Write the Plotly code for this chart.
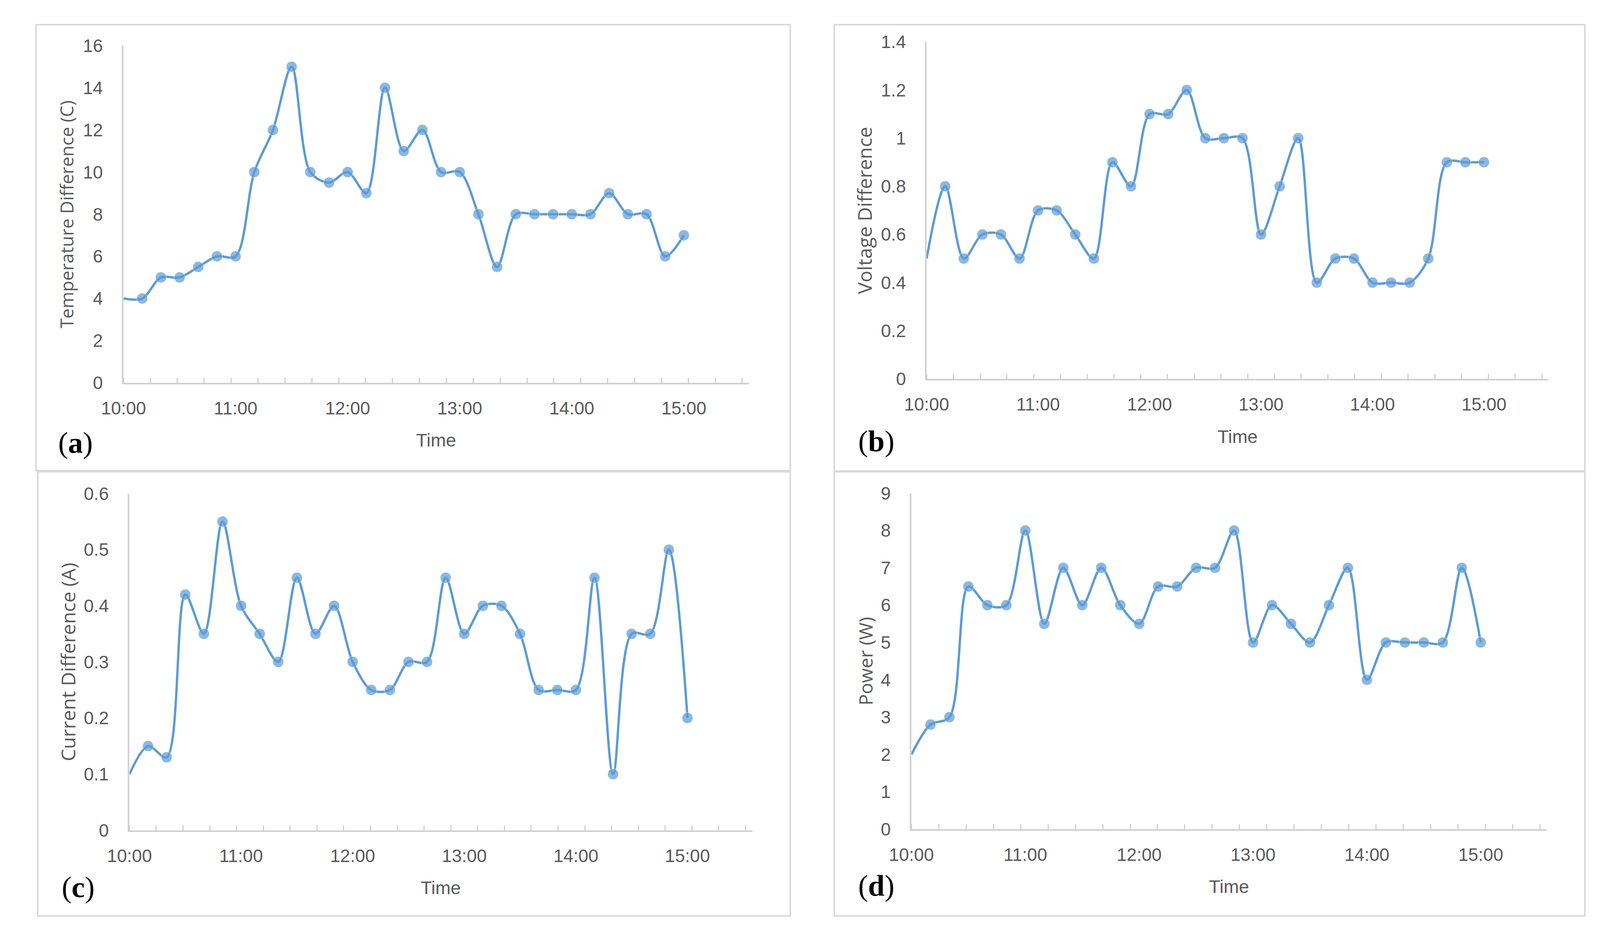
import plotly.graph_objects as go

# ---------------- data ----------------
times = ["10:00", "10:10", "10:20", "10:30", "10:40", "10:50",
         "11:00", "11:10", "11:20", "11:30", "11:40", "11:50",
         "12:00", "12:10", "12:20", "12:30", "12:40", "12:50",
         "13:00", "13:10", "13:20", "13:30", "13:40", "13:50",
         "14:00", "14:10", "14:20", "14:30", "14:40", "14:50", "15:00"]

temperature_diff = [4, 4, 5, 5, 5.5, 6, 6, 10, 12, 15, 10, 9.5, 10, 9, 14, 11,
                    12, 10, 10, 8, 5.5, 8, 8, 8, 8, 8, 9, 8, 8, 6, 7]
voltage_diff = [0.5, 0.8, 0.5, 0.6, 0.6, 0.5, 0.7, 0.7, 0.6, 0.5, 0.9, 0.8,
                1.1, 1.1, 1.2, 1.0, 1.0, 1.0, 0.6, 0.8, 1.0, 0.4, 0.5, 0.5,
                0.4, 0.4, 0.4, 0.5, 0.9, 0.9, 0.9]
current_diff = [0.1, 0.15, 0.13, 0.42, 0.35, 0.55, 0.40, 0.35, 0.30, 0.45,
                0.35, 0.40, 0.30, 0.25, 0.25, 0.30, 0.30, 0.45, 0.35, 0.40,
                0.40, 0.35, 0.25, 0.25, 0.25, 0.45, 0.10, 0.35, 0.35, 0.50, 0.20]
power = [2, 2.8, 3.0, 6.5, 6.0, 6.0, 8.0, 5.5, 7.0, 6.0, 7.0, 6.0, 5.5, 6.5,
         6.5, 7.0, 7.0, 8.0, 5.0, 6.0, 5.5, 5.0, 6.0, 7.0, 4.0, 5.0, 5.0,
         5.0, 5.0, 7.0, 5.0]

hour_ticks = ["10:00", "11:00", "12:00", "13:00", "14:00", "15:00"]

y_titles = ["Temperature Difference (C)", "Voltage Difference",
            "Current Difference (A)", "Power (W)"]
panel_labels = ["a", "b", "c", "d"]
y_max = [16, 1.4, 0.6, 9]
y_step = [2, 0.2, 0.1, 1]

# ---------------- helpers ----------------
def to_hours(t):
    h, m = t.split(":")
    return int(h) + int(m) / 60.0

x_vals = [to_hours(t) for t in times]
x_tickvals = [to_hours(t) for t in hour_ticks]

W, H = 4268, 2404          # reference canvas, used to turn pixel layout into fractions
BLUE = "#5B9BD5"
GRAY_TXT = "#595959"
AXIS_GRAY = "#d0d0d0"
BOX_GRAY = "#d9d9d9"

# plot areas (x0, x1, ytop, ybottom) in reference pixels
areas = [(273, 1965, 93, 975),
         (2446, 4129, 83, 965),
         (289, 1974, 1265, 2146),
         (2405, 4124, 1264, 2143)]
boxes = [(36, 2077, 38, 1205),
         (2196, 4227, 38, 1206),
         (41, 2077, 1208, 2370),
         (2196, 4227, 1208, 2370)]
label_pos = [(143, 1132), (2310, 1128), (150, 2295), (2310, 2291)]
ytitle_shift = [-146, -160, -158, -118]
ytitle_size = [46, 50, 50, 48]

series = [temperature_diff, voltage_diff, current_diff, power]

fig = go.Figure()
layout = dict(autosize=True, margin=dict(l=0, r=0, t=0, b=0),
              paper_bgcolor="white", plot_bgcolor="white", showlegend=False)
annotations = []
shapes = []

marker_sizes = [0] + [28] * (len(times) - 1)

for i, ys in enumerate(series):
    n = "" if i == 0 else str(i + 1)
    x0, x1, yt, yb = areas[i]
    fig.add_trace(go.Scatter(
        x=x_vals, y=ys, mode="lines+markers",
        line=dict(color=BLUE, width=6, shape="spline", smoothing=0.9),
        marker=dict(color=BLUE, size=marker_sizes),
        xaxis="x" + n, yaxis="y" + n, cliponaxis=False, hoverinfo="skip"))

    layout["xaxis" + n] = dict(
        domain=[x0 / W, x1 / W], anchor="y" + n, range=[10, 15.58],
        tickmode="array", tickvals=x_tickvals, ticktext=hour_ticks,
        ticks="", showgrid=False, zeroline=False,
        showline=True, linecolor=AXIS_GRAY, linewidth=3.5,
        tickfont=dict(family="Liberation Sans", size=46, color=GRAY_TXT),
        ticklabelstandoff=22,
        minor=dict(ticks="inside", ticklen=13, tickwidth=3, tickcolor=AXIS_GRAY,
                   tick0=10, dtick=0.24, showgrid=False))
    layout["yaxis" + n] = dict(
        domain=[1 - yb / H, 1 - yt / H], anchor="x" + n,
        range=[0, y_max[i]], dtick=y_step[i], tick0=0,
        ticks="", showgrid=False, zeroline=False,
        showline=True, linecolor=AXIS_GRAY, linewidth=3.5,
        tickfont=dict(family="Liberation Sans", size=46, color=GRAY_TXT),
        ticklabelstandoff=40)

    annotations.append(dict(
        text="Time", xref="x" + n + " domain", yref="y" + n + " domain",
        x=0.5, y=0, yshift=-147, xanchor="center", yanchor="middle",
        showarrow=False,
        font=dict(family="Liberation Sans", size=47, color=GRAY_TXT)))
    annotations.append(dict(
        text=y_titles[i], xref="x" + n + " domain", yref="y" + n + " domain",
        x=0, y=0.5, xshift=ytitle_shift[i], xanchor="center", yanchor="middle",
        textangle=-90, showarrow=False,
        font=dict(family="Open Sans", size=ytitle_size[i], color=GRAY_TXT)))
    lx, ly = label_pos[i]
    annotations.append(dict(
        text="(<b>" + panel_labels[i] + "</b>)", xref="paper", yref="paper",
        x=lx / W, y=1 - ly / H, xanchor="center", yanchor="middle",
        showarrow=False,
        font=dict(family="Liberation Serif", size=76, color="black")))
    bx0, bx1, by0, by1 = boxes[i]
    shapes.append(dict(type="rect", xref="paper", yref="paper",
                       x0=bx0 / W, x1=bx1 / W, y0=1 - by1 / H, y1=1 - by0 / H,
                       line=dict(color=BOX_GRAY, width=4), layer="below"))

layout["annotations"] = annotations
layout["shapes"] = shapes
fig.update_layout(**layout)

# make the figure fill the browser window exactly (no body margin, no scrollbars)
post = ("document.documentElement.style.margin='0';"
        "document.body.style.margin='0';document.body.style.overflow='hidden';"
        "var gd=document.getElementById('{plot_id}');"
        "gd.style.width='100vw';gd.style.height='100vh';"
        "Plotly.Plots.resize(gd);")
fig.write_html("out.html", default_width="100vw", default_height="100vh",
               config={"responsive": True, "displayModeBar": False},
               post_script=post)
